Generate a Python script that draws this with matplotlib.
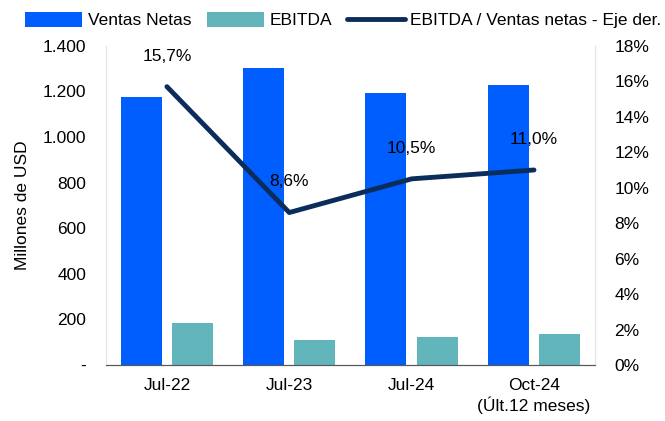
import numpy as np
import matplotlib.pyplot as plt
from matplotlib.ticker import FuncFormatter

plt.rcParams['font.family'] = ['Liberation Sans', 'DejaVu Sans']

categories = ['Jul-22', 'Jul-23', 'Jul-24', 'Oct-24\n(Últ.12 meses)']
ventas = [1176, 1303, 1194, 1229]
ebitda = [184, 111, 124, 136]
margen = [15.7, 8.6, 10.5, 11.0]

blue = '#005EFF'
teal = '#62B5BA'
navy = '#0B2D5B'

fig = plt.figure(figsize=(6.65, 4.21), dpi=100)
ax = fig.add_axes([0.159, 0.133, 0.736, 0.758])
ax2 = ax.twinx()

x = np.arange(len(categories))
w = 0.335
b1 = ax.bar(x - 0.21, ventas, w, color=blue, label='Ventas Netas')
b2 = ax.bar(x + 0.21, ebitda, w, color=teal, label='EBITDA')

ln, = ax2.plot(x, margen, color=navy, linewidth=3.5, solid_capstyle='round',
               label='EBITDA / Ventas netas - Eje der.')
for xi, m in zip(x, margen):
    ax2.annotate(f'{m:.1f}%'.replace('.', ','), (xi, m), xytext=(0, 22),
                 textcoords='offset points', ha='center', va='center', fontsize=12.5)

ax.set_xlim(-0.5, 3.5)
ax.set_ylim(0, 1400)
ax.set_yticks(range(0, 1401, 200))
ax.yaxis.set_major_formatter(FuncFormatter(lambda v, p: '-' if v == 0 else f'{int(v):,}'.replace(',', '.')))
ax2.set_ylim(0, 18)
ax2.set_yticks(range(0, 19, 2))
ax2.yaxis.set_major_formatter(FuncFormatter(lambda v, p: f'{int(v)}%'))

ax.set_xticks(x)
ax.set_xticklabels(categories, fontsize=12.5, linespacing=1.3)
ax.set_ylabel('Millones de USD', fontsize=12.5, labelpad=9)
for a in (ax, ax2):
    a.tick_params(axis='y', length=0, labelsize=12.5, pad=14)
    a.spines['top'].set_visible(False)
    a.spines['left'].set_color('#E6E6E6')
    a.spines['right'].set_color('#E6E6E6')
    a.spines['bottom'].set_color('#595959')
ax.tick_params(axis='x', length=0, pad=9)

fig.legend(handles=[b1, b2, ln], loc='upper center', bbox_to_anchor=(0.516, 1.0),
           ncol=3, frameon=False, fontsize=12.5, handlelength=3.3, handleheight=0.9,
           handletextpad=0.3, columnspacing=0.9, borderaxespad=0.3)

plt.savefig('out.png', dpi=100)
plt.close()
